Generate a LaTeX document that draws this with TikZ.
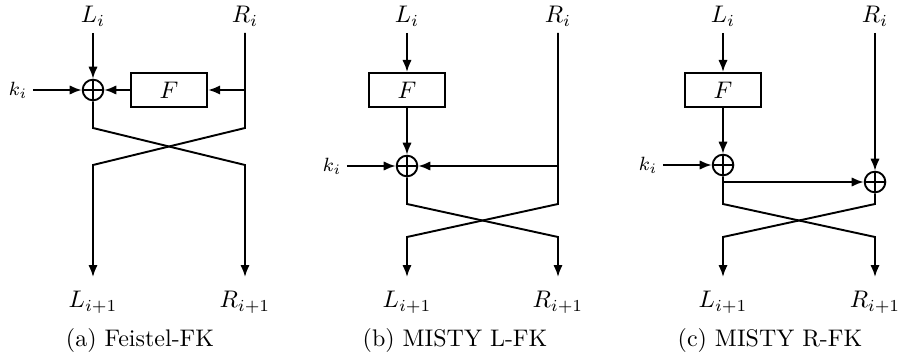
\documentclass[tikz,border=0pt]{standalone}
\usetikzlibrary{arrows.meta}
\begin{document}
\begin{tikzpicture}[x=0.41667pt,y=-0.41667pt,
  line width=0.8pt,
  arr/.style={-{Latex[length=5pt,width=3.9pt]}},
  xorn/.style={circle,draw,line width=0.8pt,minimum size=8.6pt,inner sep=0pt,
    path picture={\draw[line width=0.8pt] (path picture bounding box.north)--(path picture bounding box.south)
      (path picture bounding box.west)--(path picture bounding box.east);}},
  fbox/.style={draw,line width=0.8pt,minimum width=31.8pt,minimum height=14.2pt,inner sep=0pt},
  toplab/.style={anchor=south,inner sep=2.5pt},
  botlab/.style={anchor=north,inner sep=5.5pt},
  klab/.style={inner sep=2pt,font=\footnotesize},
  captext/.style={inner sep=0pt}]
\useasboundingbox (0,0) rectangle (901,358);

% ---------- (a) Feistel-FK ----------
\node[toplab] (aL) at (93,33) {$L_i$};
\node[toplab] (aR) at (245,33) {$R_i$};
\node[xorn] (ax) at (93,90) {};
\node[fbox] (aF) at (169,90) {$F$};
\node[klab] (ak) at (18,90) {$k_i$};
\node[botlab] (aLo) at (93,277) {$L_{i+1}$};
\node[botlab] (aRo) at (245,277) {$R_{i+1}$};
\coordinate (aRb) at (245,90);
\coordinate (a1) at (93,128);
\coordinate (a2) at (245,128);
\coordinate (a3) at (93,165);
\coordinate (a4) at (245,165);
\draw[arr] (aL) -- (ax);
\draw[arr] (ak) -- (ax);
\draw[arr] (aRb) -- (aF);
\draw[arr] (aF) -- (ax);
\draw[arr] (ax) -- (a1) -- (a4) -- (aRo);
\draw[arr] (aR) -- (a2) -- (a3) -- (aLo);
\node[captext] (acap) at (140,340) {(a) Feistel-FK};

% ---------- (b) MISTY L-FK ----------
\node[toplab] (bL) at (407,33) {$L_i$};
\node[toplab] (bR) at (558,33) {$R_i$};
\node[fbox] (bF) at (407,90) {$F$};
\node[xorn] (bx) at (407,166) {};
\node[klab] (bk) at (332,166) {$k_i$};
\node[botlab] (bLo) at (407,277) {$L_{i+1}$};
\node[botlab] (bRo) at (558,277) {$R_{i+1}$};
\coordinate (bRb) at (558,166);
\coordinate (b1) at (407,204);
\coordinate (b2) at (558,204);
\coordinate (b3) at (407,237);
\coordinate (b4) at (558,237);
\draw[arr] (bL) -- (bF);
\draw[arr] (bF) -- (bx);
\draw[arr] (bk) -- (bx);
\draw[arr] (bRb) -- (bx);
\draw[arr] (bx) -- (b1) -- (b4) -- (bRo);
\draw[arr] (bR) -- (b2) -- (b3) -- (bLo);
\node[captext] (bcap) at (455,340) {(b) MISTY L-FK};

% ---------- (c) MISTY R-FK ----------
\node[toplab] (cL) at (723,33) {$L_i$};
\node[toplab] (cR) at (875,33) {$R_i$};
\node[fbox] (cF) at (723,90) {$F$};
\node[xorn] (cx) at (723,165) {};
\node[xorn] (cy) at (875,182) {};
\node[klab] (ck) at (648,165) {$k_i$};
\node[botlab] (cLo) at (723,277) {$L_{i+1}$};
\node[botlab] (cRo) at (875,277) {$R_{i+1}$};
\coordinate (cb) at (723,182);
\coordinate (c1) at (723,204);
\coordinate (c2) at (875,204);
\coordinate (c3) at (723,237);
\coordinate (c4) at (875,237);
\draw[arr] (cL) -- (cF);
\draw[arr] (cF) -- (cx);
\draw[arr] (ck) -- (cx);
\draw[arr] (cR) -- (cy);
\draw[arr] (cb) -- (cy);
\draw[arr] (cx) -- (c1) -- (c4) -- (cRo);
\draw[arr] (cy) -- (c2) -- (c3) -- (cLo);
\node[captext] (ccap) at (770,340) {(c) MISTY R-FK};
\end{tikzpicture}
\end{document}
